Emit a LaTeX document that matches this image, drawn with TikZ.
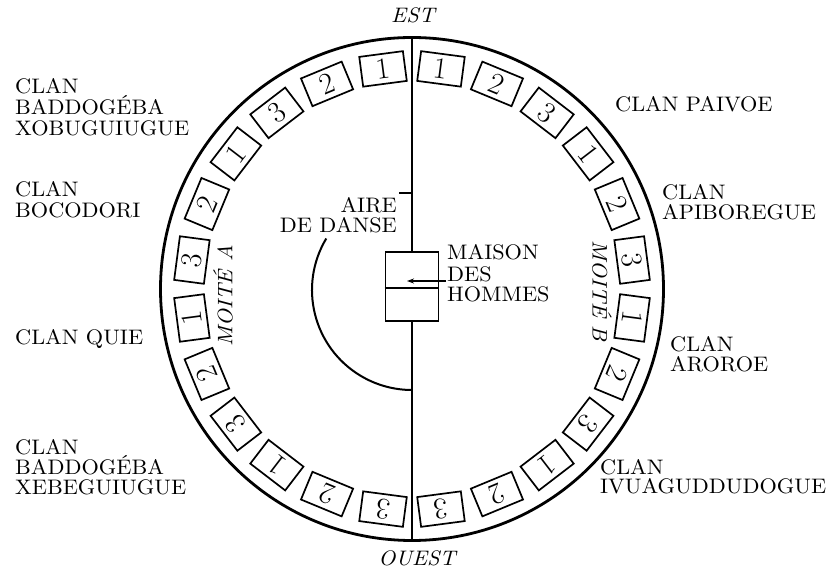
\documentclass[tikz,border=0pt]{standalone}
\usepackage{fontspec}
\usetikzlibrary{arrows.meta}
\newfontfamily\clanfont{lmroman10-regular.otf}[FakeStretch=1.06, ItalicFont=lmroman10-italic.otf]
\tikzset{
  ring/.style={line width=2.8pt},
  clanbox/.style={draw, line width=1.7pt, minimum width=44pt, minimum height=30pt, inner sep=0pt, font=\fontsize{30}{30}\selectfont},
  lbl/.style={anchor=base west, inner sep=0pt, font=\clanfont\fontsize{21}{21}\selectfont},
  lblr/.style={anchor=base east, inner sep=0pt, font=\clanfont\fontsize{21}{21}\selectfont},
  ital/.style={inner sep=0pt, font=\clanfont\fontsize{21}{21}\selectfont\itshape},
  midline/.style={line width=1.5pt},
  arcline/.style={line width=2pt},
  house/.style={draw, line width=1.7pt, minimum width=53pt, minimum height=69pt, inner sep=0pt}
}
\begin{document}
\begin{tikzpicture}[x=1pt,y=1pt]
\useasboundingbox (0,0) rectangle (830,573);
% ring
\coordinate (C) at (412,284);
\draw[ring] (C) circle[radius=251.5pt];
% boxes
\foreach \k in {0,...,11}{
  \pgfmathsetmacro{\ra}{82.5-15*\k}
  \pgfmathsetmacro{\la}{97.5+15*\k}
  \pgfmathtruncatemacro{\d}{mod(\k,3)+1}
  \node[clanbox, rotate=\ra-90] (R\k) at ({412+222*cos(\ra)},{284+222*sin(\ra)}) {\d};
  \node[clanbox, rotate=\la-90] (L\k) at ({412+222*cos(\la)},{284+222*sin(\la)}) {\d};
}
% men's house and axis
\node[house] (maison) at (412,286.5) {};
\coordinate (top) at (412,535.5);
\coordinate (bot) at (412,32.5);
\draw[midline] (top) -- (maison.north);
\draw[midline] (maison.south) -- (bot);
\draw[line width=1.5pt] (maison.west |- 0,285) -- (maison.east |- 0,285);
\coordinate (arrS) at (446,292);
\coordinate (arrE) at (407,292);
\draw[-{Stealth[length=7pt,width=5pt]}, line width=1.3pt] (arrS) -- (arrE);
% dance area
\coordinate (tickL) at (399,380);
\coordinate (tickR) at (412,380);
\draw[midline] (tickL) -- (tickR);
\coordinate (danseC) at (412,283);
\draw[arcline] (danseC) ++(149:100) arc[start angle=149,end angle=270,radius=100];
\node[lblr] (aire1) at (397,360) {AIRE};
\node[lblr] (aire2) at (397,340) {DE DANSE};
\node[lbl] (mh1) at (447,313) {MAISON};
\node[lbl] (mh2) at (447,291) {DES};
\node[lbl] (mh3) at (447,271) {HOMMES};
% directions
\node[ital, anchor=base] (est) at (413,550) {EST};
\node[ital, anchor=base] (ouest) at (417,8) {OUEST};
\node[ital, rotate=90] (moitA) at (223,277) {MOITÉ A};
\node[ital, rotate=-90] (moitB) at (602,282) {MOITÉ B};
% clans left
\node[lbl] (a1) at (15,479) {CLAN};
\node[lbl] (a2) at (15,458) {BADDOGÉBA};
\node[lbl] (a3) at (15,437) {XOBUGUIUGUE};
\node[lbl] (b1) at (15,376) {CLAN};
\node[lbl] (b2) at (15,355) {BOCODORI};
\node[lbl] (c1) at (15,228) {CLAN QUIE};
\node[lbl] (d1) at (15,118) {CLAN};
\node[lbl] (d2) at (15,98) {BADDOGÉBA};
\node[lbl] (d3) at (15,78) {XEBEGUIUGUE};
% clans right
\node[lbl] (e1) at (615,461) {CLAN PAIVOE};
\node[lbl] (f1) at (662,373) {CLAN};
\node[lbl] (f2) at (662,353) {APIBOREGUE};
\node[lbl] (g1) at (670,221) {CLAN};
\node[lbl] (g2) at (670,201) {AROROE};
\node[lbl] (h1) at (600,98) {CLAN};
\node[lbl] (h2) at (600,79) {IVUAGUDDUDOGUE};
\end{tikzpicture}
\end{document}
